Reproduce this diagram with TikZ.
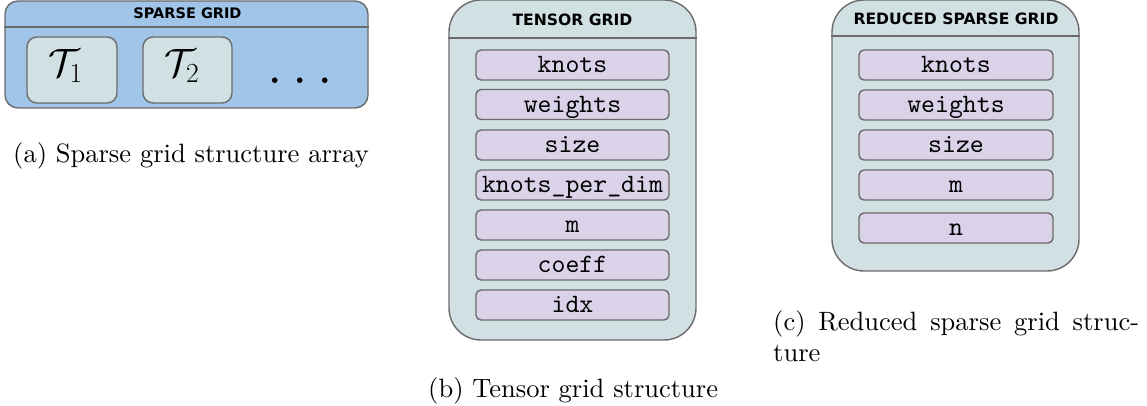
\RequirePackage{fix-cm}
\documentclass[tikz,border=0pt]{standalone}
\usepackage{fontspec}
\setmainfont{lmroman10-regular.otf}
\setmonofont{lmmono10-regular.otf}
\newfontfamily\hdrfont{DejaVu Sans}
\definecolor{strokegray}{HTML}{6B6B6B}
\definecolor{bluefill}{HTML}{A0C5E8}
\definecolor{tealfill}{HTML}{D0E0E3}
\definecolor{purplefill}{HTML}{D9D2E9}
\tikzset{
  outerbox/.style={draw=strokegray, line width=1.4pt, fill=tealfill, rounded corners=32pt, inner sep=0pt},
  sepline/.style={draw=strokegray, line width=1.4pt},
  hdr/.style={inner sep=0pt, anchor=base, font={\hdrfont\bfseries\fontsize{15.6}{18}\selectfont}},
  tbox/.style={draw=strokegray, line width=1.4pt, fill=tealfill, rounded corners=10pt, inner sep=0pt, minimum height=66pt},
  tlabel/.style={inner sep=0pt, anchor=base west, font={\fontsize{39.5}{44}\selectfont}},
  field/.style={draw=strokegray, line width=1.4pt, fill=purplefill, rounded corners=5pt, inner sep=0pt,
    minimum height=30pt, text height=19.4pt, text depth=4pt, font={\ttfamily\fontsize{26.5}{30}\selectfont}},
  captext/.style={inner sep=0pt, anchor=base west, font={\fontsize{26.5}{31.8}\selectfont}}
}
\begin{document}
\begin{tikzpicture}[x=1pt,y=-1pt]
\useasboundingbox (0,0) rectangle (1147,406);
% (a) sparse grid
\node[outerbox, fill=bluefill, rounded corners=13pt, minimum width=363pt, minimum height=107pt] (sg) at (186.5,54.5) {};
\draw[sepline] (sg.west |- 0,27) -- (sg.east |- 0,27);
\node[hdr, font={\hdrfont\bfseries\fontsize{14.5}{17}\selectfont}] (sgt) at (187.5,19) {SPARSE GRID};
\node[tbox, minimum width=90pt] (t1) at (72,70) {};
\node[tbox, minimum width=89pt] (t2) at (187.5,70) {};
\node[tlabel] (t1l) at (48,77) {$\mathcal{T}_1$};
\node[tlabel] (t2l) at (164.5,77) {$\mathcal{T}_2$};
\node[inner sep=0pt, anchor=base west, font={\fontsize{57}{60}\selectfont}] (dots) at (267,84) {$\ldots$};
\node[captext] (capa) at (13,163) {(a) Sparse grid structure array};
% (b) tensor grid
\node[outerbox, minimum width=247pt, minimum height=340pt] (tg) at (572.5,170) {};
\draw[sepline] (tg.west |- 0,38) -- (tg.east |- 0,38);
\node[hdr] (tgt) at (572.5,26) {TENSOR GRID};
\node[field, minimum width=193pt] (tf1) at (572.5,65) {knots};
\node[field, minimum width=193pt] (tf2) at (572.5,104.5) {weights};
\node[field, minimum width=193pt] (tf3) at (572.5,145) {size};
\node[field, minimum width=193pt] (tf4) at (572.5,185) {knots\_per\_dim};
\node[field, minimum width=193pt] (tf5) at (572.5,225) {m};
\node[field, minimum width=193pt] (tf6) at (572.5,265) {coeff};
\node[field, minimum width=193pt] (tf7) at (572.5,305) {idx};
\node[captext] (capb) at (428,397) {(b) Tensor grid structure};
% (c) reduced sparse grid
\node[outerbox, minimum width=247pt, minimum height=271pt] (rg) at (955.5,135.5) {};
\draw[sepline] (rg.west |- 0,36) -- (rg.east |- 0,36);
\node[hdr] (rgt) at (956,24.3) {REDUCED SPARSE GRID};
\node[field, minimum width=194pt] (rf1) at (956,65) {knots};
\node[field, minimum width=194pt] (rf2) at (956,105) {weights};
\node[field, minimum width=194pt] (rf3) at (956,145) {size};
\node[field, minimum width=194pt] (rf4) at (956,185) {m};
\node[field, minimum width=194pt] (rf5) at (956,228) {n};
\node[captext] (capc1) at (773,330) {\hbox to 366pt{(c)\hfill Reduced\hfill sparse\hfill grid\hfill struc-}};
\node[captext] (capc2) at (773,361) {ture};
\end{tikzpicture}
\end{document}
